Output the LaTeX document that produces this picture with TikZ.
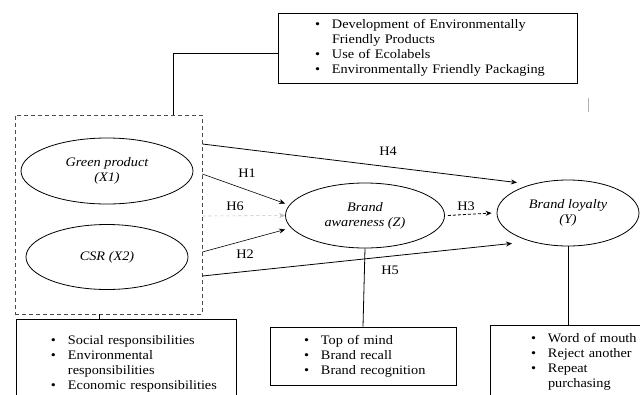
\documentclass[tikz,border=0pt]{standalone}
\usepackage{fontspec}
\setmainfont{Liberation Serif}[FakeStretch=1.1]
\usetikzlibrary{arrows.meta,calc,positioning,shapes.geometric}
\tikzset{
  construct/.style={draw,ellipse,inner sep=0pt,align=center,font=\fontsize{13}{15}\selectfont\itshape},
  indbox/.style={draw,rectangle,inner sep=0pt,align=left,font=\fontsize{13}{15}\selectfont},
  hyp/.style={->,line width=0.8pt},
  hypthin/.style={->,line width=0.6pt},
  hlabel/.style={inner sep=1pt,font=\fontsize{13}{15}\selectfont},
  link/.style={line width=0.8pt}
}
\newcommand{\bitem}[1]{\makebox[17pt][l]{\textbullet}#1}
\newcommand{\bcont}[1]{\hspace*{17pt}#1}

\begin{document}
\begin{tikzpicture}[x=1pt,y=-1pt,>={Stealth[length=6pt,width=5pt]},line width=0.8pt]
  \clip (0,0) rectangle (640,394);

  % indicator box of green product
  \node[indbox,minimum width=299pt,text width=299pt,minimum height=70pt] (tb) at (427.5,48)
    {\leftskip=37pt \bitem{Development of Environmentally}\\
     \bcont{Friendly Products}\\
     \bitem{Use of Ecolabels}\\
     \bitem{Environmentally Friendly Packaging}\par};

  % exogenous group
  \node[draw,dashed,dash pattern=on 4pt off 3pt,gray!60!black,minimum width=187pt,minimum height=199pt] (db) at (108.5,214.5) {};
  \node[construct,minimum width=172pt,minimum height=66pt] (gp) at (107,171) {Green product\\(X1)};
  \node[construct,minimum width=162pt,minimum height=65pt] (csr) at (107,257) {CSR (X2)};
  \node[construct,minimum width=159pt,minimum height=65pt] (ba) at (365,215.5) {Brand\\awareness (Z)};
  \node[construct,minimum width=142pt,minimum height=66pt] (bl) at (568,213) {Brand loyalty\\(Y)};

  % indicator boxes below
  \node[indbox,minimum width=220pt,text width=220pt,minimum height=90pt] (lb) at (126,364)
    {\leftskip=35pt \bitem{Social responsibilities}\\
     \bitem{Environmental}\\
     \bcont{responsibilities}\\
     \bitem{Economic responsibilities}\par};
  \node[indbox,minimum width=186pt,text width=186pt,minimum height=58pt] (mb) at (363,356)
    {\leftskip=34pt \bitem{Top of mind}\\
     \bitem{Brand recall}\\
     \bitem{Brand recognition}\par};
  \node[indbox,minimum width=160pt,text width=160pt,minimum height=74pt] (rb) at (570,362)
    {\leftskip=41pt \bitem{Word of mouth}\\
     \bitem{Reject another}\\
     \bitem{Repeat}\\
     \bcont{purchasing}\par};

  % links to indicators
  \draw[link] ([yshift=-5pt]tb.west) -| ([xshift=64.5pt]db.north);
  \draw[link] ([xshift=-9.5pt]db.south) -- ([xshift=-9.5pt]db.south |- lb.north);
  \draw[link] (ba.south) -- (mb.north);
  \draw[link] (bl.south) -- (bl.south |- rb.north);

  % hypotheses
  \draw[hyp] ([yshift=70.5pt]db.east) -- ([xshift=-51pt,yshift=-3pt]bl.north);
  \draw[hypthin] ([yshift=40.5pt]db.east) -- ([yshift=12pt]ba.west);
  \draw[hypthin,dashed,gray!50] ([yshift=-1.5pt]db.east) -- (ba.west);
  \draw[hypthin] ([yshift=-37.5pt]db.east) -- ([yshift=-14pt]ba.west);
  \draw[hyp] ([yshift=-61.5pt]db.east) -- ([xshift=-56pt,yshift=3pt]bl.south);
  \draw[hyp,dashed,dash pattern=on 3pt off 2pt] ([xshift=3pt]ba.east) -- ([xshift=-5pt]bl.west);

  \node[hlabel] (h1) at (247,173) {H1};
  \node[hlabel] (h6) at (235,206) {H6};
  \node[hlabel] (h2) at (245,254) {H2};
  \node[hlabel] (h4) at (388,151) {H4};
  \node[hlabel] (h5) at (390,270) {H5};
  \node[hlabel] (h3) at (466,206) {H3};

  \draw[gray!60] (588,98) -- (588,112);
\end{tikzpicture}
\end{document}
